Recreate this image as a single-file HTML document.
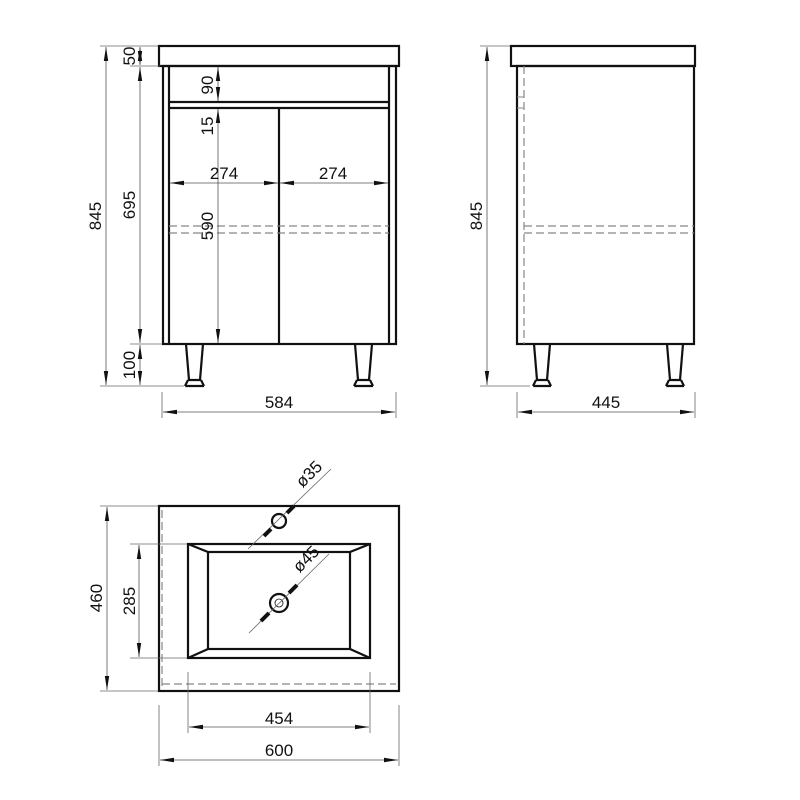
<!DOCTYPE html>
<html><head><style>body{margin:0;background:#fff}svg{display:block}text{font-family:"Liberation Sans",Arial,sans-serif;font-size:17px;fill:#111}</style></head>
<body>
<svg width="800" height="800" viewBox="0 0 800 800" xmlns="http://www.w3.org/2000/svg">
<defs>
<marker id="a" viewBox="0 0 14 6" refX="14" refY="3" markerWidth="14" markerHeight="6" orient="auto-start-reverse" markerUnits="userSpaceOnUse"><path d="M0,0.8 L14,3 L0,5.2z" fill="#111"/></marker>
</defs>
<g stroke="#111" stroke-width="2.2" fill="none">
<rect x="159" y="46" width="240" height="20"/>
<rect x="163" y="66" width="233" height="278"/>
<line x1="169" y1="66" x2="169" y2="344"/><line x1="389" y1="66" x2="389" y2="344"/>
<line x1="169" y1="102" x2="389" y2="102"/><line x1="169" y1="108" x2="389" y2="108"/>
<line x1="279" y1="108" x2="279" y2="344"/>
<path d="M186,344 L189,380 L200,380 L203,344 M185,386 L188,380 M201,380 L204,386 M185,386 H204"/>
<path d="M355,344 L358,380 L369,380 L372,344 M354,386 L357,380 M370,380 L373,386 M354,386 H373"/>
<rect x="511" y="46" width="184" height="20"/>
<rect x="517" y="66" width="177" height="278"/>
<path d="M534,344 L537,380 L547,380 L550,344 M533,386 L536,380 M548,380 L551,386 M533,386 H551"/>
<path d="M667,344 L670,380 L680,380 L683,344 M666,386 L669,380 M681,380 L684,386 M666,386 H684"/>
<rect x="159" y="506" width="240" height="185"/>
<rect x="188" y="544" width="182" height="114"/>
<rect x="208" y="552" width="142" height="97"/>
<path d="M188,544 L208,552 M370,544 L350,552 M188,658 L208,649 M370,658 L350,649"/>
<circle cx="279" cy="521" r="7"/>
<circle cx="279" cy="603" r="9"/>
</g>
<g stroke="#111" stroke-width="0.8" fill="none"><circle cx="279" cy="603" r="4"/></g>
<g stroke="#888" stroke-width="1.2" stroke-dasharray="8,4" fill="none">
<line x1="169" y1="226" x2="389" y2="226"/><line x1="169" y1="233" x2="389" y2="233"/>
<line x1="524" y1="226" x2="694" y2="226"/><line x1="524" y1="233" x2="694" y2="233"/>
<line x1="524" y1="66" x2="524" y2="344"/>
<line x1="162" y1="684" x2="396" y2="684"/><line x1="162" y1="510" x2="162" y2="688"/>
</g>
<path d="M517,97 H524 M517,108 H524" stroke="#888" stroke-width="1"/>
<g stroke="#666" stroke-width="0.8" fill="none">
<line x1="100" y1="46" x2="158" y2="46"/><line x1="100" y1="386" x2="184" y2="386"/>
<line x1="130" y1="66" x2="160" y2="66"/><line x1="130" y1="344" x2="162" y2="344"/>
<line x1="162" y1="392" x2="162" y2="418"/><line x1="396" y1="392" x2="396" y2="418"/>
<line x1="480" y1="46" x2="510" y2="46"/><line x1="480" y1="386" x2="530" y2="386"/>
<line x1="517" y1="392" x2="517" y2="418"/><line x1="695" y1="392" x2="695" y2="418"/>
<line x1="100" y1="506" x2="158" y2="506"/><line x1="100" y1="691" x2="158" y2="691"/>
<line x1="130" y1="544" x2="187" y2="544"/><line x1="130" y1="658" x2="187" y2="658"/>
<line x1="188" y1="672" x2="188" y2="733"/><line x1="370" y1="672" x2="370" y2="733"/>
<line x1="159" y1="705" x2="159" y2="766"/><line x1="399" y1="705" x2="399" y2="766"/>
<line x1="248" y1="549" x2="331" y2="469"/><line x1="249" y1="633" x2="329" y2="554"/>
</g>
<g stroke="#555" stroke-width="0.8" marker-start="url(#a)" marker-end="url(#a)">
<line x1="106" y1="47" x2="106" y2="385"/>
<line x1="140" y1="47" x2="140" y2="65"/>
<line x1="140" y1="67" x2="140" y2="343"/>
<line x1="140" y1="345" x2="140" y2="385"/>
<line x1="218" y1="67" x2="218" y2="101"/>
<line x1="218" y1="109" x2="218" y2="343"/>
<line x1="170" y1="183" x2="278" y2="183"/>
<line x1="280" y1="183" x2="388" y2="183"/>
<line x1="163" y1="412" x2="395" y2="412"/>
<line x1="487" y1="47" x2="487" y2="385"/>
<line x1="518" y1="412" x2="694" y2="412"/>
<line x1="107" y1="507" x2="107" y2="690"/>
<line x1="139" y1="545" x2="139" y2="657"/>
<line x1="189" y1="727" x2="369" y2="727"/>
<line x1="160" y1="760" x2="398" y2="760"/>
</g>
<g stroke="#111" stroke-width="4">
<line x1="264" y1="536" x2="271" y2="529"/><line x1="287" y1="513" x2="294" y2="506"/>
<line x1="261" y1="621" x2="269" y2="613"/><line x1="289" y1="593" x2="297" y2="585"/>
</g>
<g>
<text transform="translate(135,56) rotate(-90)" text-anchor="middle">50</text>
<text transform="translate(101,216) rotate(-90)" text-anchor="middle">845</text>
<text transform="translate(135,205) rotate(-90)" text-anchor="middle">695</text>
<text transform="translate(135,365) rotate(-90)" text-anchor="middle">100</text>
<text transform="translate(213,85) rotate(-90)" text-anchor="middle">90</text>
<text transform="translate(213,126) rotate(-90)" text-anchor="middle">15</text>
<text transform="translate(213,226) rotate(-90)" text-anchor="middle">590</text>
<text x="224" y="179" text-anchor="middle">274</text>
<text x="333" y="179" text-anchor="middle">274</text>
<text x="279" y="408" text-anchor="middle">584</text>
<text transform="translate(482,216) rotate(-90)" text-anchor="middle">845</text>
<text x="606" y="408" text-anchor="middle">445</text>
<text transform="translate(102,598) rotate(-90)" text-anchor="middle">460</text>
<text transform="translate(135,601) rotate(-90)" text-anchor="middle">285</text>
<text x="279" y="724" text-anchor="middle">454</text>
<text x="279" y="756" text-anchor="middle">600</text>
<text transform="translate(313,478) rotate(-45)" text-anchor="middle">ø35</text>
<text transform="translate(310,563) rotate(-45)" text-anchor="middle">ø45</text>
</g>
</svg>
</body></html>
